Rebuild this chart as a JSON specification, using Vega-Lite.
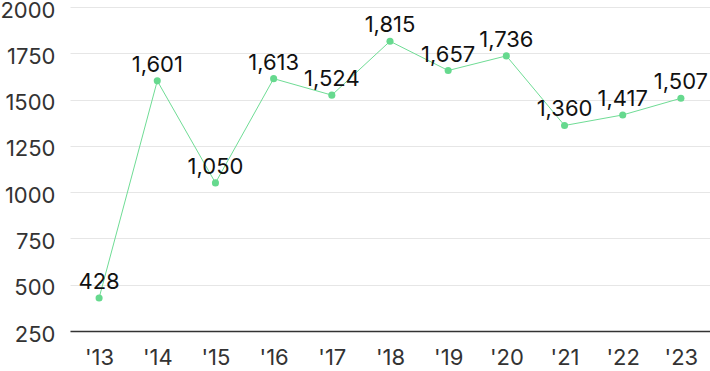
{
  "$schema": "https://vega.github.io/schema/vega-lite/v6.json",
  "autosize": "none",
  "width": 640,
  "height": 324,
  "padding": {"left": 70, "top": 7, "right": 0, "bottom": 40},
  "background": "white",
  "config": {
    "view": {"stroke": null},
    "font": "Inter",
    "axis": {"labelFont": "Inter", "labelFontSize": 22, "labelColor": "#333333"}
  },
  "data": {
    "values": [
      {"year": "'13", "value": 428},
      {"year": "'14", "value": 1601},
      {"year": "'15", "value": 1050},
      {"year": "'16", "value": 1613},
      {"year": "'17", "value": 1524},
      {"year": "'18", "value": 1815},
      {"year": "'19", "value": 1657},
      {"year": "'20", "value": 1736},
      {"year": "'21", "value": 1360},
      {"year": "'22", "value": 1417},
      {"year": "'23", "value": 1507}
    ]
  },
  "encoding": {
    "x": {
      "field": "year", "type": "ordinal", "sort": null,
      "scale": {"type": "point", "padding": 0.5},
      "axis": {"title": null, "labelAngle": 0, "ticks": false, "domainColor": "#333333", "domainWidth": 1.5, "labelPadding": 16, "grid": false}
    },
    "y": {
      "field": "value", "type": "quantitative",
      "scale": {"domain": [250, 2000], "nice": false, "zero": false},
      "axis": {"title": null, "values": [250, 500, 750, 1000, 1250, 1500, 1750, 2000], "domain": false, "ticks": false, "labelPadding": 15, "labelOffset": 3, "gridColor": "#e6e6e6", "format": "d"}
    }
  },
  "layer": [
    {"mark": {"type": "line", "color": "#6fdc95", "strokeWidth": 1}},
    {"mark": {"type": "point", "filled": true, "opacity": 1, "color": "#66d98e", "size": 50}},
    {
      "mark": {"type": "text", "dy": -16, "fontSize": 22, "color": "#111111", "font": "Inter"},
      "encoding": {"text": {"field": "value", "type": "quantitative", "format": ","}}
    }
  ]
}
